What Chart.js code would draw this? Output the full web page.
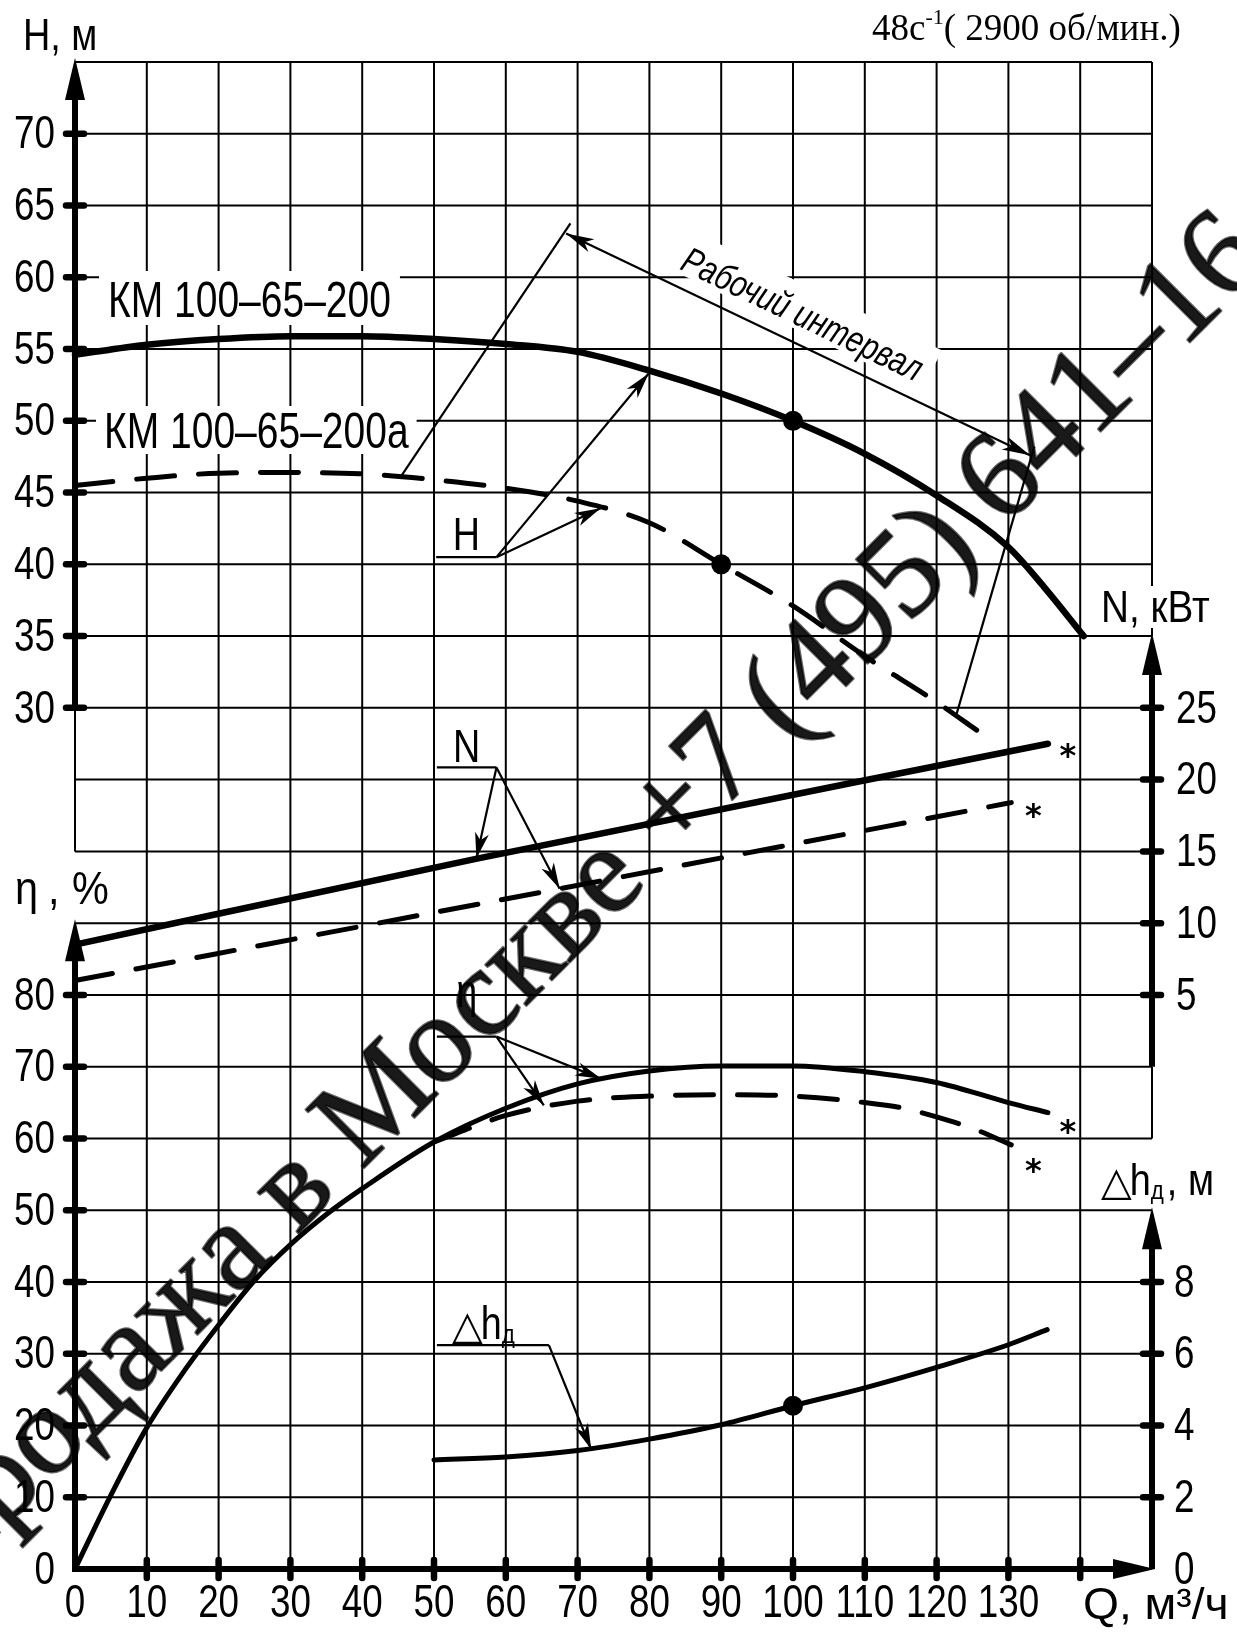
<!DOCTYPE html>
<html>
<head>
<meta charset="utf-8">
<script src="https://cdn.jsdelivr.net/npm/chart.js@4/dist/chart.umd.min.js"></script>
<style>
  html, body { margin: 0; padding: 0; background: #fff; }
  canvas { display: block; }
</style>
</head>
<body>
<canvas id="pumpChart" width="1237" height="1641"></canvas>
<script>
// --- DATA ---
// ticks
const qTicks = [0, 10, 20, 30, 40, 50, 60, 70, 80, 90, 100, 110, 120, 130];
const hTicks = [30, 35, 40, 45, 50, 55, 60, 65, 70];
const nTicks = [5, 10, 15, 20, 25];
const etaTicks = [0, 10, 20, 30, 40, 50, 60, 70, 80];
const dhTicks = [0, 2, 4, 6, 8];

// H(Q), КМ 100-65-200 (solid) / 200а (dashed)
const qH200 = [0, 10, 20, 30, 40, 50, 60, 70, 80, 90, 100, 110, 120, 130, 135, 140.5];
const h200 = [54.6, 55.3, 55.7, 55.9, 55.9, 55.7, 55.35, 54.8, 53.5, 51.9, 50, 47.7, 44.8, 41.2, 38.4, 35.0];
const qH200a = [0, 10, 20, 30, 40, 50, 60, 70, 80, 90, 100, 110, 120, 126];
const h200a = [45.5, 46.0, 46.35, 46.4, 46.3, 45.9, 45.3, 44.4, 42.9, 40.0, 37.1, 33.6, 30.4, 28.3];

// N(Q), kW
const qN200 = [0, 56, 135.5];
const n200 = [8.5, 14.5, 22.5];
const qN200a = [0, 67.5, 130.4];
const n200a = [6.0, 12.4, 18.4];

// η(Q), %
const qEta200 = [0, 5, 10, 15, 20, 25, 30, 35, 40, 50, 60, 70, 80, 90, 100, 110, 120, 130, 135.5];
const eta200 = [0, 10.3, 19.7, 27.3, 34, 40.2, 45.2, 49.4, 53, 59.5, 64.2, 67.6, 69.4, 70.1, 70.1, 69.3, 67.8, 65.0, 63.6];
const qEta200a = [50, 60, 70, 80, 90, 100, 110, 115, 120, 125, 130.4];
const eta200a = [59.5, 63.2, 65.2, 65.9, 66.1, 65.9, 65.0, 64.3, 63.0, 61.4, 59.1];

// Δh(Q), m
const qDh = [50, 60, 70, 80, 90, 100, 110, 120, 130, 135.4];
const dh = [3.04, 3.12, 3.3, 3.62, 4.02, 4.55, 5.05, 5.62, 6.25, 6.67];

// marked points (Q)
const h200Dots = [100];
const h200aDots = [90];
const dhDots = [100];

const WATERMARK = 'Продажа в Москве +7 (495) 641–16';

// --- HELPERS ---
const FONT = '"Liberation Sans", Arimo, sans-serif';
const SERIF = '"Liberation Serif", "DejaVu Serif", serif';
const zip = (xs, ys) => xs.map((x, i) => ({ x: x, y: ys[i] }));

function px(chart, axis, q, v) {
  return [chart.scales.x.getPixelForValue(q), chart.scales[axis].getPixelForValue(v)];
}
function seg(ctx, a, b) {
  ctx.beginPath();
  ctx.moveTo(a[0], a[1]);
  ctx.lineTo(b[0], b[1]);
  ctx.stroke();
}
// filled arrow head at 'to'
function head(ctx, from, to, len, half, notch) {
  const dx = to[0] - from[0], dy = to[1] - from[1];
  const d = Math.hypot(dx, dy);
  const ux = dx / d, uy = dy / d;
  const bx = to[0] - ux * len, by = to[1] - uy * len;
  const n = notch || 1;
  ctx.beginPath();
  ctx.moveTo(to[0], to[1]);
  ctx.lineTo(bx - uy * half, by + ux * half);
  ctx.lineTo(to[0] - ux * len * n, to[1] - uy * len * n);
  ctx.lineTo(bx + uy * half, by - ux * half);
  ctx.closePath();
  ctx.fill();
}
// narrow text: drawn with a horizontal squeeze, returns drawn width
function sText(ctx, text, x, y, font, sx, align) {
  ctx.font = font;
  const w = ctx.measureText(text).width * sx;
  let x0 = x;
  if (align === 'center') x0 = x - w / 2;
  else if (align === 'right') x0 = x - w;
  ctx.save();
  ctx.textAlign = 'left';
  ctx.translate(x0, y);
  ctx.scale(sx, 1);
  ctx.fillText(text, 0, 0);
  ctx.restore();
  return w;
}
function whiteText(ctx, text, x, y, font, sx, pad) {
  ctx.font = font;
  const w = ctx.measureText(text).width * sx;
  ctx.fillStyle = '#fff';
  ctx.fillRect(x - pad[0], y - pad[1], w + pad[0] + pad[2], pad[1] + pad[3]);
  ctx.fillStyle = '#000';
  sText(ctx, text, x, y, font, sx, 'left');
}

// --- LINE STYLES ---
function curve(label, axis, data, width, dashed, dots) {
  return {
    label: label,
    yAxisID: axis,
    data: data,
    borderColor: '#000',
    backgroundColor: '#000',
    borderWidth: width,
    borderDash: dashed ? [38, 24] : [],
    borderCapStyle: 'round',
    cubicInterpolationMode: 'monotone',
    fill: false,
    clip: false,
    pointRadius: c => (dots && c.raw && dots.includes(c.raw.x)) ? 10 : 0,
    pointBorderWidth: 0,
    pointBackgroundColor: '#000'
  };
}

// --- DRAWING PLUGIN (grid, axes, labels) ---
const sketch = {
  id: 'sketch',
  beforeDraw(chart) {
    const ctx = chart.ctx;
    ctx.save();
    ctx.fillStyle = '#fff';
    ctx.fillRect(0, 0, chart.width, chart.height);
    ctx.restore();
  },
  beforeDatasetsDraw(chart) {
    const ctx = chart.ctx;
    const x = chart.scales.x, yE = chart.scales.yE;
    const top = yE.getPixelForValue(210), bottom = yE.getPixelForValue(0);
    const left = x.getPixelForValue(0), right = x.getPixelForValue(150);
    ctx.save();
    ctx.strokeStyle = '#000';
    ctx.lineWidth = 2;
    // verticals
    for (let q = 10; q <= 140; q += 10) {
      const xp = x.getPixelForValue(q);
      seg(ctx, [xp, top], [xp, bottom]);
    }
    // horizontals (one per grid cell)
    for (let e = 10; e <= 210; e += 10) {
      const yp = yE.getPixelForValue(e);
      seg(ctx, [left, yp], [right, yp]);
    }
    // thin borders
    seg(ctx, [right, yE.getPixelForValue(210)], [right, yE.getPixelForValue(130)]);
    seg(ctx, [right, yE.getPixelForValue(70)], [right, yE.getPixelForValue(60)]);
    seg(ctx, [left, yE.getPixelForValue(120)], [left, yE.getPixelForValue(100)]);

    // curve titles with white backing
    ctx.textBaseline = 'alphabetic';
    whiteText(ctx, 'КМ 100–65–200', 108, 317, '50px ' + FONT, 0.78, [9, 46, 9, 8]);
    whiteText(ctx, 'КМ 100–65–200а', 104, 448, '50px ' + FONT, 0.78, [8, 42, 8, 6]);

    // working interval
    const a = px(chart, 'yH', 68.4, 63.05), b = px(chart, 'yH', 133.0, 47.6);
    const ang = Math.atan2(b[1] - a[1], b[0] - a[0]);
    const c = px(chart, 'yH', 101.3, 57.4);
    ctx.save();
    ctx.translate(c[0], c[1]);
    ctx.rotate(ang);
    const font = 'italic 37px ' + FONT;
    ctx.font = font;
    const tw = ctx.measureText('Рабочий интервал').width * 0.8;
    ctx.fillStyle = '#fff';
    ctx.fillRect(-tw / 2 - 10, -28, tw + 20, 44);
    ctx.fillStyle = '#000';
    sText(ctx, 'Рабочий интервал', 0, 12, font, 0.8, 'center');
    ctx.restore();
    ctx.restore();
  },
  afterDatasetsDraw(chart) {
    const ctx = chart.ctx;
    const x = chart.scales.x, yH = chart.scales.yH, yN = chart.scales.yN,
      yE = chart.scales.yE, yD = chart.scales.yD;
    const left = x.getPixelForValue(0), right = x.getPixelForValue(150);
    const bottom = yE.getPixelForValue(0);
    ctx.save();
    ctx.strokeStyle = '#000';
    ctx.fillStyle = '#000';

    // thick axes
    ctx.lineWidth = 6;
    ctx.lineCap = 'butt';
    const axes = [
      [[left, yH.getPixelForValue(30)], [left, yH.getPixelForValue(75) - 4]],
      [[left, bottom], [left, yE.getPixelForValue(90) - 4]],
      [[right, yN.getPixelForValue(0)], [right, yN.getPixelForValue(30) - 3]],
      [[right, bottom], [right, yD.getPixelForValue(10) - 3]],
      [[left - 3, bottom], [right + 3, bottom]]
    ];
    axes.forEach(([p, q]) => {
      const dx = q[0] - p[0], dy = q[1] - p[1], d = Math.hypot(dx, dy);
      seg(ctx, p, [q[0] - dx / d * 20, q[1] - dy / d * 20]);
      head(ctx, p, q, 42, 10, 1);
    });

    // tick bars
    ctx.lineWidth = 6.5;
    ctx.lineCap = 'round';
    hTicks.forEach(v => { const y = yH.getPixelForValue(v); seg(ctx, [left - 9, y], [left + 9, y]); });
    etaTicks.filter(v => v > 0).forEach(v => { const y = yE.getPixelForValue(v); seg(ctx, [left - 9, y], [left + 9, y]); });
    nTicks.forEach(v => { const y = yN.getPixelForValue(v); seg(ctx, [right - 9, y], [right + 9, y]); });
    dhTicks.filter(v => v > 0).forEach(v => { const y = yD.getPixelForValue(v); seg(ctx, [right - 9, y], [right + 9, y]); });
    for (let q = 10; q <= 140; q += 10) {
      const xp = x.getPixelForValue(q);
      seg(ctx, [xp, bottom - 9], [xp, bottom + 9]);
    }

    // tick labels
    const tf = '46px ' + FONT, ts = 0.8;
    ctx.textBaseline = 'middle';
    hTicks.forEach(v => sText(ctx, String(v), 55, yH.getPixelForValue(v) + 2, tf, ts, 'right'));
    etaTicks.forEach(v => sText(ctx, String(v), 55, yE.getPixelForValue(v) + 2, tf, ts, 'right'));
    nTicks.forEach(v => sText(ctx, String(v), 1176, yN.getPixelForValue(v) + 2, tf, ts, 'left'));
    dhTicks.forEach(v => sText(ctx, String(v), 1174, yD.getPixelForValue(v) + 2, tf, ts, 'left'));
    qTicks.forEach(v => sText(ctx, String(v), x.getPixelForValue(v), 1604, tf, ts, 'center'));

    // axis titles
    ctx.textBaseline = 'alphabetic';
    const af = '44px ' + FONT;
    sText(ctx, 'H, м', 23, 50, af, 0.86, 'left');
    sText(ctx, 'η', 15, 904, '46px ' + FONT, 0.9, 'left');
    sText(ctx, ',', 48, 904, '46px ' + FONT, 0.9, 'left');
    sText(ctx, '%', 72, 904, '46px ' + FONT, 0.9, 'left');
    ctx.font = af;
    const nw = ctx.measureText('N, кВт').width * 0.88;
    ctx.fillStyle = '#fff';
    ctx.fillRect(1097, 586, nw + 8, 42);
    ctx.fillStyle = '#000';
    sText(ctx, 'N, кВт', 1101, 622, af, 0.88, 'left');
    sText(ctx, 'Q, м³/ч', 1083, 1619, af, 1.05, 'left');
    // Δh title
    let tx = 1101;
    ctx.font = '40px "DejaVu Sans", sans-serif';
    ctx.fillText('△', tx, 1195);
    tx += ctx.measureText('△').width - 2;
    tx += sText(ctx, 'h', tx, 1195, af, 0.86, 'left');
    tx += sText(ctx, 'д', tx, 1199, '26px ' + FONT, 0.86, 'left') + 3;
    sText(ctx, ', м', tx, 1195, af, 0.86, 'left');

    // speed note
    ctx.font = '37px ' + SERIF;
    let sx = 872;
    ctx.fillText('48c', sx, 40);
    sx += ctx.measureText('48c').width;
    ctx.font = '22px ' + SERIF;
    ctx.fillText('-1', sx, 24);
    sx += ctx.measureText('-1').width;
    ctx.font = '37px ' + SERIF;
    ctx.fillText('( 2900 об/мин.)', sx, 40);

    // leaders with underlined labels
    ctx.lineWidth = 2.2;
    ctx.lineCap = 'butt';
    const leaders = [
      { axis: 'yH', text: 'H', under: [50.3, 58.7, 40.5], tips: [[79.9, 53.3], [73.2, 43.9]], lift: 7 },
      { axis: 'yN', text: 'N', under: [50.4, 58.7, 20.85], tips: [[55.9, 14.5], [67.5, 12.4]], lift: 5 },
      { axis: 'yE', text: 'η', under: [50.4, 58.7, 74.2], tips: [[73.3, 68.3], [65.3, 64.6]], lift: 30 },
      { axis: 'yD', text: '', under: [50.4, 66.0, 6.24], tips: [[71.9, 3.33]], lift: 5 }
    ];
    leaders.forEach(l => {
      const p1 = px(chart, l.axis, l.under[0], l.under[2]);
      const p2 = px(chart, l.axis, l.under[1], l.under[2]);
      seg(ctx, p1, p2);
      l.tips.forEach(t => {
        const tp = px(chart, l.axis, t[0], t[1]);
        seg(ctx, p2, tp);
        head(ctx, p2, tp, 26, 7, 0.72);
      });
      if (l.text) sText(ctx, l.text, (p1[0] + p2[0]) / 2, p1[1] - l.lift, '46px ' + FONT, 0.82, 'center');
    });
    // Δh label over its leader
    const dl = px(chart, 'yD', 52.5, 6.24);
    let lx = dl[0];
    ctx.font = '40px "DejaVu Sans", sans-serif';
    ctx.fillText('△', lx, dl[1] - 6);
    lx += ctx.measureText('△').width - 2;
    lx += sText(ctx, 'h', lx, dl[1] - 6, '46px ' + FONT, 0.82, 'left');
    sText(ctx, 'д', lx, dl[1] - 2, '26px ' + FONT, 0.86, 'left');

    // working interval: double arrow and end leaders
    const wa = px(chart, 'yH', 68.4, 63.05), wb = px(chart, 'yH', 133.0, 47.6);
    seg(ctx, wa, wb);
    head(ctx, wb, wa, 28, 7, 0.72);
    head(ctx, wa, wb, 28, 7, 0.72);
    seg(ctx, px(chart, 'yH', 69.0, 63.75), px(chart, 'yH', 45.5, 46.2));
    seg(ctx, px(chart, 'yH', 133.6, 48.2), px(chart, 'yH', 122.8, 29.6));

    // stars at curve ends
    ctx.font = 'bold 32px "DejaVu Sans", sans-serif';
    ctx.textAlign = 'center';
    const stars = [
      ['yN', qN200[qN200.length - 1], n200[n200.length - 1], 20, 3],
      ['yN', qN200a[qN200a.length - 1], n200a[n200a.length - 1], 22, 4],
      ['yE', qEta200[qEta200.length - 1], eta200[eta200.length - 1], 20, 10],
      ['yE', qEta200a[qEta200a.length - 1], eta200a[eta200a.length - 1], 22, 17]
    ];
    stars.forEach(s => {
      const p = px(chart, s[0], s[1], s[2]);
      ctx.fillText('*', p[0] + s[3], p[1] + s[4] + 19);
    });
    ctx.restore();
  },
  afterDraw(chart) {
    // watermark over the picture
    const ctx = chart.ctx;
    ctx.save();
    ctx.font = '126px ' + SERIF;
    ctx.fillStyle = 'rgba(0,0,0,0.9)';
    ctx.strokeStyle = 'rgba(0,0,0,0.6)';
    ctx.lineWidth = 2.5;
    ctx.lineJoin = 'round';
    ctx.textBaseline = 'alphabetic';
    ctx.translate(-62, 1594);
    ctx.rotate(-Math.PI / 4);
    ctx.fillText(WATERMARK, 0, 0);
    ctx.strokeText(WATERMARK, 0, 0);
    ctx.restore();
  }
};

// --- CHART ---
const chart = new Chart(document.getElementById('pumpChart'), {
  type: 'line',
  data: {
    datasets: [
      curve('H КМ 100-65-200', 'yH', zip(qH200, h200), 6.5, false, h200Dots),
      curve('H КМ 100-65-200а', 'yH', zip(qH200a, h200a), 5, true, h200aDots),
      curve('N КМ 100-65-200', 'yN', zip(qN200, n200), 6.5, false, null),
      curve('N КМ 100-65-200а', 'yN', zip(qN200a, n200a), 5, true, null),
      curve('η КМ 100-65-200', 'yE', zip(qEta200, eta200), 5, false, null),
      curve('η КМ 100-65-200а', 'yE', zip(qEta200a, eta200a), 5, true, null),
      curve('Δh', 'yD', zip(qDh, dh), 5, false, dhDots)
    ]
  },
  options: {
    responsive: false,
    animation: false,
    layout: { padding: { left: 75, right: 85, top: 62, bottom: 72 } },
    plugins: { legend: { display: false }, tooltip: { enabled: false } },
    scales: {
      x: { type: 'linear', min: 0, max: 150, display: false },
      yH: { type: 'linear', min: -30, max: 75, display: false },
      yN: { type: 'linear', min: -35, max: 70, display: false },
      yE: { type: 'linear', min: 0, max: 210, display: false },
      yD: { type: 'linear', min: 0, max: 42, display: false }
    }
  },
  plugins: [sketch]
});
</script>
</body>
</html>
